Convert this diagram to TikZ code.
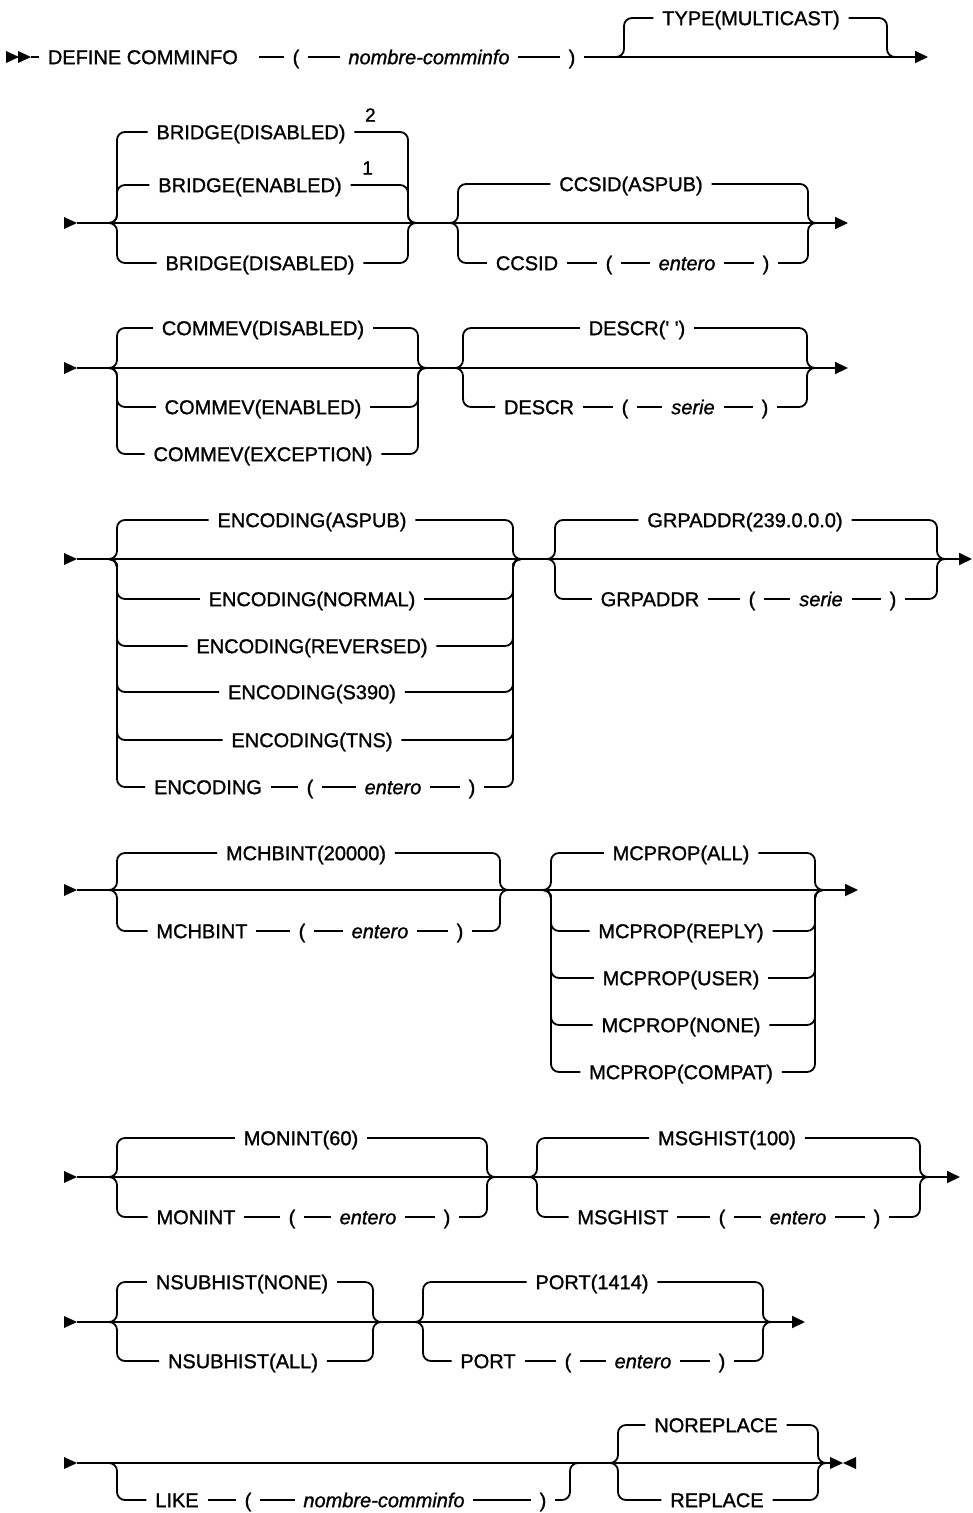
\documentclass[tikz,border=0pt]{standalone}
\usepackage{fontspec}
\setmainfont{Liberation Sans}[FakeBold=1.2]
\usetikzlibrary{arrows.meta}

\tikzset{
    kw/.style={inner xsep=8pt, inner ysep=0pt, text height=14.3pt, text depth=0pt, font=\fontsize{20}{24}\selectfont},
    var/.style={kw, font=\fontsize{20}{24}\selectfont\itshape},
    fn/.style={inner sep=0pt, font=\fontsize{19}{21}\selectfont},
    endtip/.style={-{Triangle[length=13pt,width=12pt]}}
}

% rama de una eleccion: xizq, xder, ymain, primer nodo, ultimo nodo
\newcommand{\rail}[5]{%
    \draw[rounded corners=8pt] (#1-8,#3) -- (#1,#3) -- (#1,#3 |- #4) -- (#4.west);
    \draw[rounded corners=8pt] (#5.east) -- (#2,#3 |- #5) -- (#2,#3) -- (#2+8,#3);
}
% PALABRA -- ( -- valor -- )
\newcommand{\parm}[8]{%
    \node[kw] (#1k) at (#3,#2) {#4};
    \node[kw] (#1l) at (#5,#2) {(};
    \node[var] (#1v) at (#6,#2) {#7};
    \node[kw] (#1r) at (#8,#2) {)};
    \draw (#1k.east) -- (#1l.west) (#1l.east) -- (#1v.west) (#1v.east) -- (#1r.west);
}
\newcommand{\tipR}[2]{\fill (#1-13,#2-6) -- (#1,#2) -- (#1-13,#2+6) -- cycle;}
\newcommand{\tipL}[2]{\fill (#1+13,#2-6) -- (#1,#2) -- (#1+13,#2+6) -- cycle;}

\begin{document}
\begin{tikzpicture}[x=1pt, y=-1pt, line width=1.8pt, line join=round]
    \useasboundingbox (0,0) rectangle (973,1513);

    % 1. DEFINE COMMINFO ( nombre-comminfo ) TYPE
    \tipR{19}{57} \tipR{31}{57}
    \coordinate (r1s) at (31,57);
    \coordinate (r1e) at (928,57);
    \node[kw, anchor=west] (def) at (39,57) {DEFINE COMMINFO};
    \node[kw] (deflp) at (296,57) {(};
    \node[var] (defv) at (429,57) {nombre-comminfo};
    \node[kw] (defrp) at (572,57) {)};
    \draw (r1s) -- (def.west);
    \draw ([xshift=12pt]def.east) -- (deflp.west) (deflp.east) -- (defv.west) (defv.east) -- (defrp.west);
    \draw[endtip] (defrp.east) -- (r1e);
    \node[kw] (type) at (751,18) {TYPE(MULTICAST)};
    \rail{624}{887}{57}{type}{type}

    % 2. BRIDGE y CCSID
    \coordinate (r2s) at (77,223);
    \coordinate (r2e) at (848,223);
    \tipR{77}{223}
    \draw[endtip] (r2s) -- (r2e);
    \node[kw] (bd1) at (251,132) {BRIDGE(DISABLED)};
    \node[kw] (be) at (250,185) {BRIDGE(ENABLED)};
    \node[kw] (bd2) at (260,263) {BRIDGE(DISABLED)};
    \node[fn] (fn2) at ([xshift=16pt,yshift=17pt]bd1.east) {2};
    \node[fn] (fn1) at ([xshift=17pt,yshift=17pt]be.east) {1};
    \foreach \nm in {bd1,be,bd2} {\rail{117}{408}{223}{\nm}{\nm}}
    \node[kw] (csd) at (631,184) {CCSID(ASPUB)};
    \parm{cs}{263}{527}{CCSID}{609}{687}{entero}{766}
    \rail{458}{808}{223}{csd}{csd}
    \rail{458}{808}{223}{csk}{csr}

    % 3. COMMEV y DESCR
    \coordinate (r3s) at (77,368);
    \coordinate (r3e) at (848,368);
    \tipR{77}{368}
    \draw[endtip] (r3s) -- (r3e);
    \foreach \nm/\txt/\yy in {cv1/COMMEV(DISABLED)/328, cv2/COMMEV(ENABLED)/407, cv3/COMMEV(EXCEPTION)/454}
        {\node[kw] (\nm) at (263,\yy) {\txt}; \rail{117}{418}{368}{\nm}{\nm}}
    \node[kw] (dsd) at (637,328) {DESCR(\textquotesingle{} \textquotesingle)};
    \parm{ds}{407}{539}{DESCR}{625}{693}{serie}{765}
    \rail{463}{807}{368}{dsd}{dsd}
    \rail{463}{807}{368}{dsk}{dsr}

    % 4. ENCODING y GRPADDR
    \coordinate (r4s) at (77,559);
    \coordinate (r4e) at (972,559);
    \tipR{77}{559}
    \draw[endtip] (r4s) -- (r4e);
    \foreach \nm/\txt/\yy in {en1/ENCODING(ASPUB)/520, en2/ENCODING(NORMAL)/599, en3/ENCODING(REVERSED)/646,
                             en4/ENCODING(S390)/692, en5/ENCODING(TNS)/740}
        {\node[kw] (\nm) at (312,\yy) {\txt}; \rail{117}{513}{559}{\nm}{\nm}}
    \parm{en}{787}{208}{ENCODING}{310}{393}{entero}{472}
    \rail{117}{513}{559}{enk}{enr}
    \node[kw] (gad) at (745,520) {GRPADDR(239.0.0.0)};
    \parm{ga}{599}{650}{GRPADDR}{752}{821}{serie}{893}
    \rail{555}{937}{559}{gad}{gad}
    \rail{555}{937}{559}{gak}{gar}

    % 5. MCHBINT y MCPROP
    \coordinate (r5s) at (77,890);
    \coordinate (r5e) at (858,890);
    \tipR{77}{890}
    \draw[endtip] (r5s) -- (r5e);
    \node[kw] (mbd) at (306,853) {MCHBINT(20000)};
    \parm{mb}{931}{202}{MCHBINT}{302}{380}{entero}{460}
    \rail{117}{500}{890}{mbd}{mbd}
    \rail{117}{500}{890}{mbk}{mbr}
    \foreach \nm/\txt/\yy in {mp1/MCPROP(ALL)/853, mp2/MCPROP(REPLY)/931, mp3/MCPROP(USER)/978,
                             mp4/MCPROP(NONE)/1025, mp5/MCPROP(COMPAT)/1072}
        {\node[kw] (\nm) at (681,\yy) {\txt}; \rail{551}{815}{890}{\nm}{\nm}}

    % 6. MONINT y MSGHIST
    \coordinate (r6s) at (77,1177);
    \coordinate (r6e) at (960,1177);
    \tipR{77}{1177}
    \draw[endtip] (r6s) -- (r6e);
    \node[kw] (mod) at (301,1138) {MONINT(60)};
    \parm{mo}{1217}{196}{MONINT}{292}{368}{entero}{447}
    \rail{117}{487}{1177}{mod}{mod}
    \rail{117}{487}{1177}{mok}{mor}
    \node[kw] (mhd) at (727,1138) {MSGHIST(100)};
    \parm{mh}{1217}{623}{MSGHIST}{722}{798}{entero}{877}
    \rail{537}{920}{1177}{mhd}{mhd}
    \rail{537}{920}{1177}{mhk}{mhr}

    % 7. NSUBHIST y PORT
    \coordinate (r7s) at (77,1322);
    \coordinate (r7e) at (805,1322);
    \tipR{77}{1322}
    \draw[endtip] (r7s) -- (r7e);
    \node[kw] (nsd) at (242,1282) {NSUBHIST(NONE)};
    \node[kw] (nsa) at (243,1361) {NSUBHIST(ALL)};
    \rail{117}{373}{1322}{nsd}{nsd}
    \rail{117}{373}{1322}{nsa}{nsa}
    \node[kw] (pod) at (592,1282) {PORT(1414)};
    \parm{po}{1361}{488}{PORT}{568}{643}{entero}{722}
    \rail{423}{763}{1322}{pod}{pod}
    \rail{423}{763}{1322}{pok}{por}

    % 8. LIKE y NOREPLACE / REPLACE
    \coordinate (r8s) at (77,1463);
    \coordinate (r8e) at (830,1463);
    \tipR{77}{1463}
    \draw (r8s) -- (r8e);
    \tipR{843}{1463} \tipL{843}{1463}
    \parm{lk}{1500}{177}{LIKE}{248}{384}{nombre-comminfo}{543}
    \rail{117}{570}{1463}{lkk}{lkr}
    \node[kw] (nrp) at (716,1425) {NOREPLACE};
    \node[kw] (rp) at (717,1500) {REPLACE};
    \rail{618}{818}{1463}{nrp}{nrp}
    \rail{618}{818}{1463}{rp}{rp}
\end{tikzpicture}
\end{document}
